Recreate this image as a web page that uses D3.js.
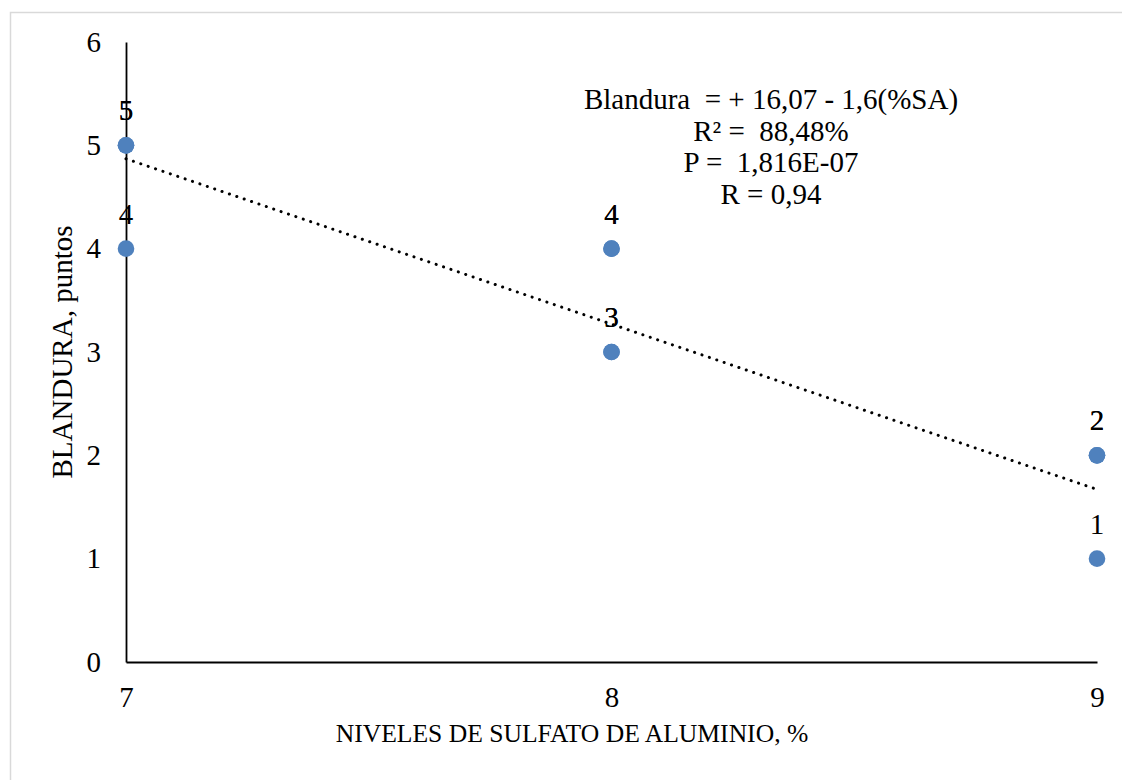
<!DOCTYPE html>
<html>
<head>
<meta charset="utf-8">
<script src="https://cdn.jsdelivr.net/npm/d3@7"></script>
<style>
  html, body { margin: 0; padding: 0; background: #fff; }
  svg { display: block; }
  text { font-family: "Liberation Serif", "Times New Roman", serif; fill: #000; white-space: pre; }
</style>
</head>
<body>
<svg id="chart" width="1122" height="780"></svg>
<script>
// Observations: aluminium sulphate level (%) and softness score
const sulfateLevels = [7, 7, 7, 8, 8, 8, 8, 9, 9, 9];
const softnessScores = [5, 5, 4, 4, 4, 3, 3, 2, 2, 1];

// Axis ticks
const xTicks = [7, 8, 9];
const yTicks = [0, 1, 2, 3, 4, 5, 6];

// Fitted linear trend: Blandura = intercept + slope * %SA
const trendIntercept = 16.07;
const trendSlope = -1.6;

// Regression annotation lines
const equationLines = [
  "Blandura  = + 16,07 - 1,6(%SA)",
  "R\u00B2 =  88,48%",
  "P =  1,816E-07",
  "R = 0,94"
];

const xTitle = "NIVELES DE SULFATO DE ALUMINIO, %";
const yTitle = "BLANDURA, puntos";

const svg = d3.select("#chart");

// outer chart frame
svg.append("rect")
  .attr("x", 10.5).attr("y", 12.5)
  .attr("width", 1300).attr("height", 1000)
  .attr("fill", "none")
  .attr("stroke", "#d9d9d9")
  .attr("stroke-width", 1.5);

const x = d3.scaleLinear().domain([7, 9]).range([126, 1097]);
const y = d3.scaleLinear().domain([0, 6]).range([662, 42]);

// Y axis
const yAxis = svg.append("g")
  .attr("transform", `translate(${x(7)},0)`)
  .attr("font-family", null)
  .call(d3.axisLeft(y).tickValues(yTicks).tickSize(0).tickPadding(25).tickFormat(d3.format("d")));
yAxis.attr("font-family", "Liberation Serif");
yAxis.select(".domain").attr("stroke", "#000").attr("stroke-width", 1.8);
yAxis.selectAll("text").style("font-size", "29px").style("font-family", "Liberation Serif");

// X axis
const xAxis = svg.append("g")
  .attr("transform", `translate(0,${y(0)})`)
  .call(d3.axisBottom(x).tickValues(xTicks).tickSize(0).tickPadding(24.5).tickFormat(d3.format("d")));
xAxis.attr("font-family", "Liberation Serif");
xAxis.select(".domain").attr("stroke", "#000").attr("stroke-width", 1.8);
xAxis.selectAll("text").style("font-size", "29px").style("font-family", "Liberation Serif");

// Axis titles
svg.append("text")
  .attr("x", 572)
  .attr("y", 742)
  .attr("text-anchor", "middle")
  .style("font-size", "25.6px")
  .text(xTitle);

svg.append("text")
  .attr("transform", `translate(72,${(y(0) + y(6)) / 2}) rotate(-90)`)
  .attr("text-anchor", "middle")
  .style("font-size", "29px")
  .text(yTitle);

// Dotted linear trend line
const trendX = d3.extent(sulfateLevels);
svg.append("line")
  .attr("x1", x(trendX[0]))
  .attr("y1", y(trendIntercept + trendSlope * trendX[0]))
  .attr("x2", x(trendX[1]))
  .attr("y2", y(trendIntercept + trendSlope * trendX[1]))
  .attr("stroke", "#000")
  .attr("stroke-width", 3)
  .attr("stroke-linecap", "round")
  .attr("stroke-dasharray", "0.1 7.7");

// Points
const points = sulfateLevels.map((s, i) => ({ x: s, y: softnessScores[i] }));

svg.append("g").selectAll("circle")
  .data(points)
  .join("circle")
  .attr("cx", d => x(d.x))
  .attr("cy", d => y(d.y))
  .attr("r", 8.3)
  .attr("fill", "#4f81bd");

// Value labels above each point
svg.append("g").selectAll("text")
  .data(points)
  .join("text")
  .attr("x", d => x(d.x))
  .attr("y", d => y(d.y) - 25)
  .attr("text-anchor", "middle")
  .style("font-size", "29px")
  .text(d => d.y);

// Regression annotation
svg.append("g").selectAll("text")
  .data(equationLines)
  .join("text")
  .attr("x", 771)
  .attr("y", (d, i) => 109 + i * 31.5)
  .attr("text-anchor", "middle")
  .style("font-size", "29px")
  .text(d => d);
</script>
</body>
</html>
